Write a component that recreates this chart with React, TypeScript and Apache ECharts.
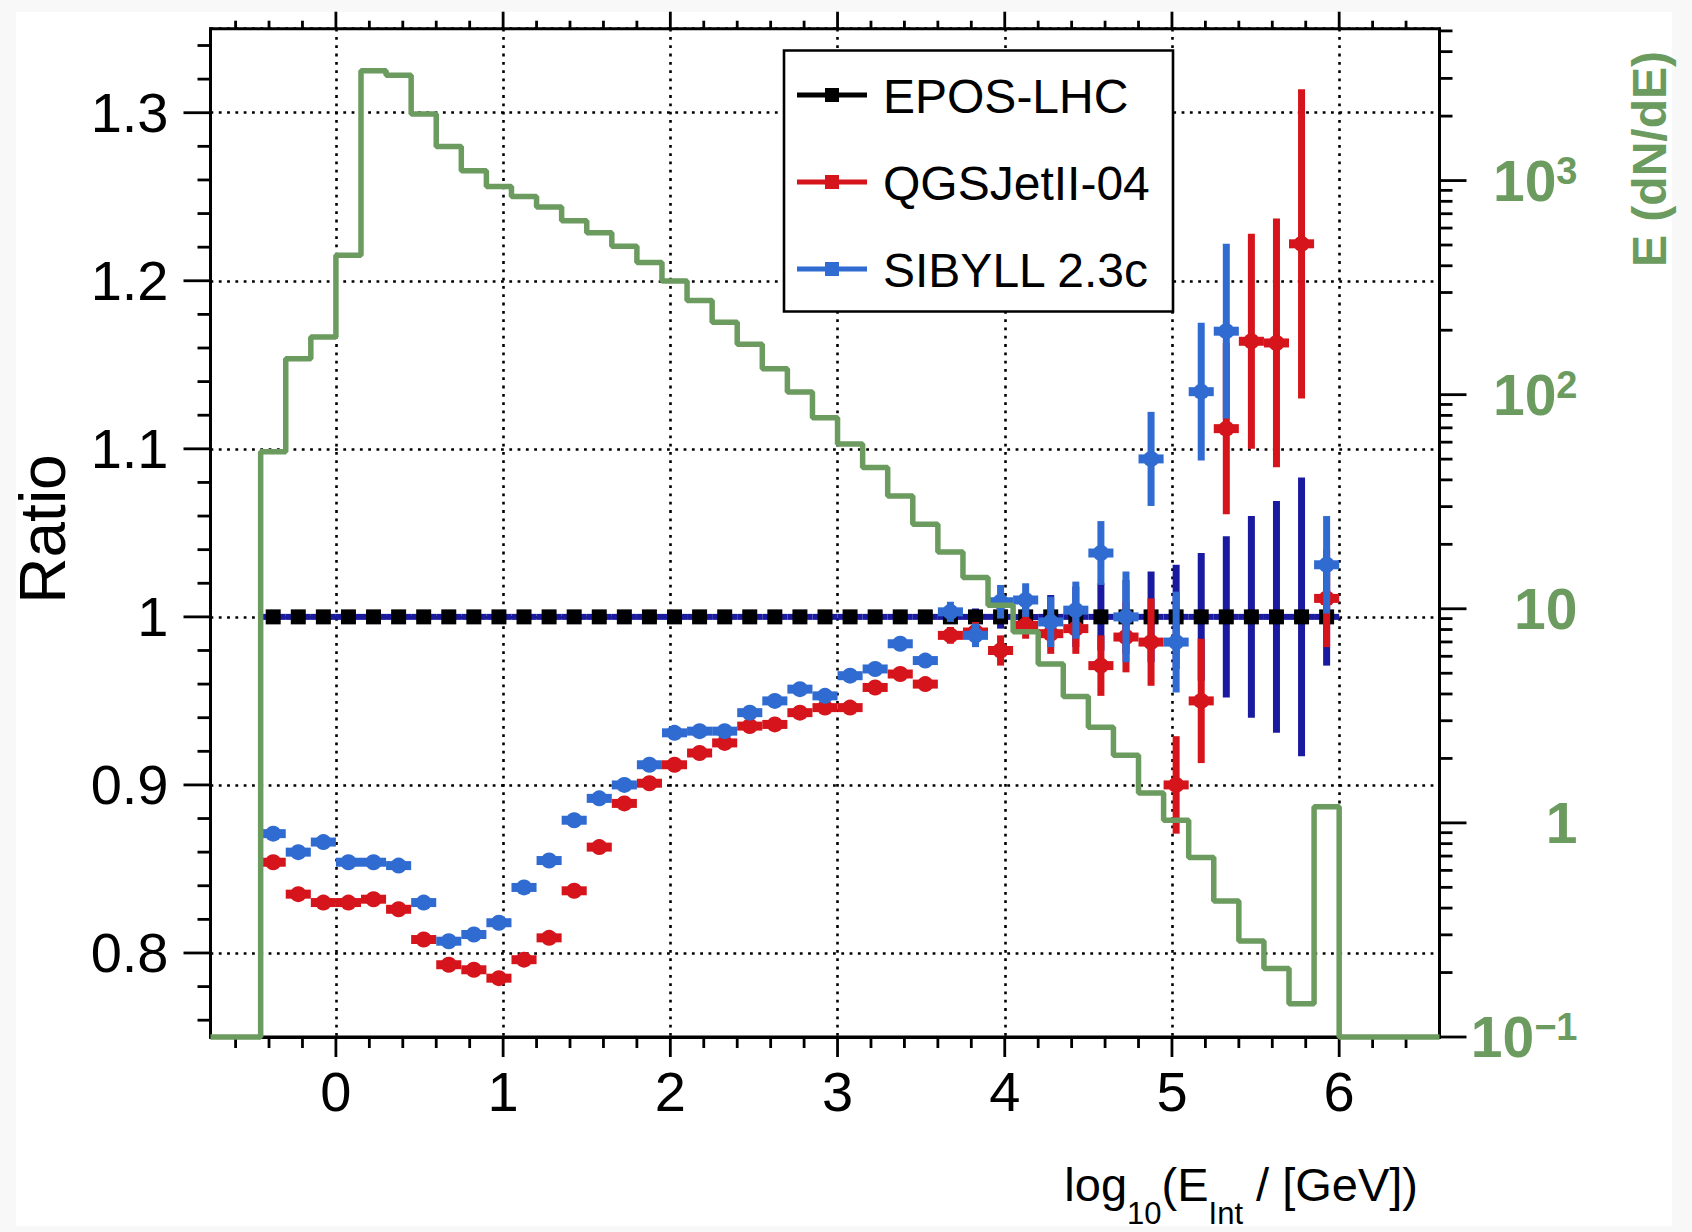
import React, { useEffect, useRef } from 'react';
import * as echarts from 'echarts';

// ---------- data ----------
const binEdges = [
  -0.45, -0.3, -0.15, 0, 0.15, 0.3, 0.45, 0.6, 0.75, 0.9, 1.05, 1.2, 1.35, 1.5, 1.65,
  1.8, 1.95, 2.1, 2.25, 2.4, 2.55, 2.7, 2.85, 3.0, 3.15, 3.3, 3.45, 3.6, 3.75, 3.9,
  4.05, 4.2, 4.35, 4.5, 4.65, 4.8, 4.95, 5.1, 5.25, 5.4, 5.55, 5.7, 5.85, 6.0,
];

const eposRatio = [
  1, 1, 1, 1, 1, 1, 1, 1, 1, 1, 1, 1, 1, 1, 1, 1, 1, 1, 1, 1, 1, 1, 1, 1, 1, 1, 1, 1, 1, 1,
  1, 1, 1, 1, 1, 1, 1, 1, 1, 1, 1, 1, 1,
];
const eposErr = [
  0.001, 0.001, 0.001, 0.001, 0.001, 0.001, 0.001, 0.001, 0.001, 0.001,
  0.001, 0.001, 0.001, 0.001, 0.001, 0.001, 0.001, 0.001, 0.001, 0.001,
  0.001, 0.001, 0.001, 0.001, 0.001, 0.001, 0.001,
  0.004, 0.005, 0.007, 0.009, 0.013, 0.018, 0.02, 0.022, 0.027, 0.031, 0.038, 0.048,
  0.06, 0.069, 0.083, 0.029,
];

const qgsRatio = [
  0.854, 0.835, 0.830, 0.830, 0.832, 0.826, 0.808, 0.793, 0.790, 0.785,
  0.796, 0.809, 0.837, 0.863, 0.889, 0.901, 0.912, 0.919, 0.925, 0.935,
  0.936, 0.943, 0.946, 0.946, 0.958, 0.966, 0.960, 0.989, 0.991, 0.980,
  0.995, 0.990, 0.993, 0.971, 0.988, 0.985, 0.900, 0.950, 1.112, 1.164,
  1.163, 1.222, 1.011,
];
const qgsErr = [
  0.002, 0.002, 0.002, 0.002, 0.002, 0.002, 0.002, 0.002, 0.002, 0.002,
  0.002, 0.002, 0.002, 0.002, 0.002, 0.002, 0.002, 0.002, 0.002, 0.002,
  0.002, 0.003, 0.003, 0.003, 0.003, 0.003, 0.003,
  0.005, 0.006, 0.009, 0.008, 0.012, 0.015, 0.018, 0.021, 0.026, 0.029, 0.037, 0.051,
  0.064, 0.074, 0.092, 0.029,
];

const sibRatio = [
  0.871, 0.860, 0.866, 0.854, 0.854, 0.852, 0.830, 0.807, 0.811, 0.818,
  0.839, 0.855, 0.879, 0.892, 0.900, 0.912, 0.931, 0.932, 0.932, 0.943,
  0.950, 0.957, 0.953, 0.965, 0.969, 0.984, 0.974, 1.003, 0.989, 1.009,
  1.010, 0.997, 1.004, 1.038, 1.000, 1.094, 0.985, 1.134, 1.170, null,
  null, null, 1.031,
];
const sibErr = [
  0.002, 0.002, 0.002, 0.002, 0.002, 0.002, 0.002, 0.002, 0.002, 0.002,
  0.002, 0.002, 0.002, 0.002, 0.002, 0.002, 0.002, 0.002, 0.002, 0.002,
  0.002, 0.003, 0.003, 0.003, 0.003, 0.003, 0.003,
  0.006, 0.007, 0.01, 0.01, 0.015, 0.017, 0.019, 0.027, 0.028, 0.03, 0.041, 0.052,
  null, null, null, 0.029,
];

// E dN/dE histogram (right log axis), one value per bin
const dNdE = [
  54.1, 147, 186, 448, 3260, 3100, 2047, 1442, 1110, 938,
  843, 753, 649, 571, 493, 414, 340, 275, 218, 172,
  132, 103, 78.1, 58.9, 45.7, 33.6, 24.8, 18.4, 14.0, 10.4,
  7.82, 5.52, 3.89, 2.80, 2.07, 1.38, 1.03, 0.689, 0.432, 0.281,
  0.209, 0.143, 1.19,
];
const emptyBinLevel = 0.1;

// axis ranges and ticks
const xRange = [-0.75, 6.6];
const ratioRange = [0.75, 1.35];
const dNdERange = [0.1, 5120];
const energyMajorTicks = [0, 1, 2, 3, 4, 5, 6];
const energyMinorTicks = [
  -0.6, -0.4, -0.2, 0.2, 0.4, 0.6, 0.8, 1.2, 1.4, 1.6, 1.8, 2.2, 2.4, 2.6, 2.8,
  3.2, 3.4, 3.6, 3.8, 4.2, 4.4, 4.6, 4.8, 5.2, 5.4, 5.6, 5.8, 6.2, 6.4,
];
const ratioMajorTicks = [0.8, 0.9, 1, 1.1, 1.2, 1.3];
const ratioMinorTicks = [
  0.76, 0.78, 0.82, 0.84, 0.86, 0.88, 0.92, 0.94, 0.96, 0.98, 1.02, 1.04, 1.06, 1.08,
  1.12, 1.14, 1.16, 1.18, 1.22, 1.24, 1.26, 1.28, 1.32, 1.34,
];
const dNdEMajorTicks = [0.1, 1, 10, 100, 1000];
const dNdEMinorTicks = [
  0.2, 0.3, 0.4, 0.5, 0.6, 0.7, 0.8, 0.9,
  2, 3, 4, 5, 6, 7, 8, 9,
  20, 30, 40, 50, 60, 70, 80, 90,
  200, 300, 400, 500, 600, 700, 800, 900,
  2000, 3000, 4000, 5000,
];

const legendNames = ['EPOS-LHC', 'QGSJetII-04', 'SIBYLL 2.3c'];

// ---------- styles ----------
const FONT = "'Liberation Sans', Arial, Helvetica, sans-serif";
const GREEN = '#6b9b5e';
const NAVY = '#1a1aa0';
const RED = '#d5141b';
const BLUE = '#2f6bd0';
const BLACK = '#000000';

function buildModelData(values: (number | null)[], errors: (number | null)[]) {
  const out: number[][] = [];
  for (let i = 0; i < values.length; i++) {
    const v = values[i];
    if (v == null) continue;
    const lo = binEdges[i];
    const hi = binEdges[i + 1];
    out.push([(lo + hi) / 2, v, errors[i] as number, (hi - lo) / 2]);
  }
  return out;
}

function makeErrorRender(cfg: {
  barColor: string; errColor: string; markColor: string; hBar: number; vBar: number; square: boolean; size: number;
}) {
  return (params: any, api: any) => {
    const c = api.value(0);
    const v = api.value(1);
    const e = api.value(2);
    const hw = api.value(3);
    const p = api.coord([c, v]);
    const l = api.coord([c - hw, v]);
    const r = api.coord([c + hw, v]);
    const t = api.coord([c, v + e]);
    const b = api.coord([c, v - e]);
    const s = cfg.size;
    const children: any[] = [
      {
        type: 'rect',
        shape: { x: l[0], y: p[1] - cfg.hBar / 2, width: r[0] - l[0], height: cfg.hBar },
        style: { fill: cfg.barColor },
      },
      {
        type: 'rect',
        shape: { x: p[0] - cfg.vBar / 2, y: t[1], width: cfg.vBar, height: b[1] - t[1] },
        style: { fill: cfg.errColor },
      },
      cfg.square
        ? { type: 'rect', shape: { x: p[0] - s / 2, y: p[1] - s / 2, width: s, height: s }, style: { fill: cfg.markColor } }
        : { type: 'circle', shape: { cx: p[0], cy: p[1], r: s / 2 }, style: { fill: cfg.markColor } },
    ];
    return { type: 'group', children };
  };
}

function tickRender(params: any, api: any) {
  const cs = params.coordSys;
  const xv = api.value(0);
  const yv = api.value(1);
  const major = api.value(2) === 1;
  const kind = api.value(3);
  const p = api.coord([xv, yv]);
  const ls = { stroke: BLACK, lineWidth: 2.8 };
  const left = cs.x;
  const right = cs.x + cs.width;
  const top = cs.y;
  const bottom = cs.y + cs.height;
  if (kind === 0) {
    const lb = major ? 20 : 11;
    const lt = major ? 17 : 8;
    return {
      type: 'group',
      children: [
        { type: 'line', shape: { x1: p[0], y1: bottom, x2: p[0], y2: bottom + lb }, style: ls },
        { type: 'line', shape: { x1: p[0], y1: top, x2: p[0], y2: top - lt }, style: ls },
      ],
    };
  }
  const len = major ? 27 : 13;
  if (kind === 1) {
    return { type: 'line', shape: { x1: left - len, y1: p[1], x2: left, y2: p[1] }, style: ls };
  }
  return { type: 'line', shape: { x1: right, y1: p[1], x2: right + len, y2: p[1] }, style: ls };
}

function buildOption() {
  const histData: number[][] = [[xRange[0], emptyBinLevel]];
  for (let i = 0; i < dNdE.length; i++) histData.push([binEdges[i], dNdE[i]]);
  histData.push([binEdges[binEdges.length - 1], emptyBinLevel]);
  histData.push([xRange[1], emptyBinLevel]);

  const tickData: number[][] = [];
  energyMajorTicks.forEach((v) => tickData.push([v, 1, 1, 0]));
  energyMinorTicks.forEach((v) => tickData.push([v, 1, 0, 0]));
  ratioMajorTicks.forEach((v) => tickData.push([xRange[0], v, 1, 1]));
  ratioMinorTicks.forEach((v) => tickData.push([xRange[0], v, 0, 1]));
  const logTickData: number[][] = [];
  dNdEMajorTicks.forEach((v) => logTickData.push([xRange[1], v, 1, 2]));
  dNdEMinorTicks.forEach((v) => logTickData.push([xRange[1], v, 0, 2]));

  const dotted = { color: BLACK, width: 2.6, type: [2.8, 5.5] as any };
  const axisLine = { show: true, onZero: false, lineStyle: { color: BLACK, width: 3 } };

  const legendRows = [
    { name: legendNames[0], color: BLACK, y: 95 },
    { name: legendNames[1], color: RED, y: 182 },
    { name: legendNames[2], color: BLUE, y: 269 },
  ];
  const legendEls: any[] = [
    {
      type: 'rect', z: 100,
      shape: { x: 784, y: 50.5, width: 389, height: 261 },
      style: { fill: '#ffffff', stroke: BLACK, lineWidth: 2.6 },
    },
  ];
  legendRows.forEach((r) => {
    legendEls.push({
      type: 'line', z: 101,
      shape: { x1: 797, y1: r.y, x2: 867, y2: r.y },
      style: { stroke: r.color, lineWidth: 5 },
    });
    legendEls.push({
      type: 'rect', z: 102,
      shape: { x: 825, y: r.y - 7, width: 14, height: 14 },
      style: { fill: r.color },
    });
    legendEls.push({
      type: 'text', z: 102, x: 883, y: r.y + 1,
      style: { text: r.name, fontSize: 48, fontFamily: FONT, fill: BLACK, align: 'left', verticalAlign: 'middle' },
    });
  });

  return {
    animation: false,
    backgroundColor: 'transparent',
    grid: {
      left: 210.5, top: 28.7, width: 1229, height: 1008.3,
      show: true, borderColor: BLACK, borderWidth: 3, backgroundColor: 'transparent',
      containLabel: false, outerBoundsMode: 'none',
    },
    xAxis: {
      type: 'value', min: xRange[0], max: xRange[1], splitNumber: 7,
      axisLine, axisTick: { show: false },
      axisLabel: {
        fontSize: 56, color: BLACK, fontFamily: FONT, margin: 26,
        showMinLabel: false, showMaxLabel: false,
      },
      splitLine: { show: true, lineStyle: dotted },
    },
    yAxis: [
      {
        type: 'value', min: ratioRange[0], max: ratioRange[1], splitNumber: 6, position: 'left',
        axisLine, axisTick: { show: false },
        axisLabel: {
          fontSize: 56, color: BLACK, fontFamily: FONT, margin: 42,
          showMinLabel: false, showMaxLabel: false,
        },
        splitLine: { show: true, lineStyle: dotted },
      },
      {
        type: 'log', logBase: 10, min: dNdERange[0], max: dNdERange[1], position: 'right',
        axisLine, axisTick: { show: false }, splitLine: { show: false },
        axisLabel: {
          margin: 138, align: 'right', showMaxLabel: false, showMinLabel: true,
          formatter: (v: number) => {
            const e = Math.round(Math.log10(v));
            if (e === 0) return '{b|1}';
            if (e === 1) return '{b|10}';
            return '{b|10}{p|' + (e < 0 ? '\u2212' + -e : String(e)) + '}';
          },
          rich: {
            b: { fontSize: 57, fontWeight: 'bold', color: GREEN, fontFamily: FONT, lineHeight: 58 },
            p: { fontSize: 38, fontWeight: 'bold', color: GREEN, fontFamily: FONT, lineHeight: 36, verticalAlign: 'top' },
          },
        },
      },
    ],
    graphic: {
      elements: [
        {
          type: 'rect', z: -100, silent: true,
          shape: { x: 16, y: 12, width: 1656, height: 1214 },
          style: { fill: '#ffffff' },
        },
        {
          type: 'text', x: 43, y: 529, rotation: Math.PI / 2,
          style: { text: 'Ratio', fontSize: 64, fontFamily: FONT, fill: BLACK, align: 'center', verticalAlign: 'middle' },
        },
        {
          type: 'text', x: 1649, y: 159, rotation: Math.PI / 2,
          style: {
            text: 'E (dN/dE)', fontSize: 48, fontWeight: 'bold', fontFamily: FONT, fill: GREEN,
            align: 'center', verticalAlign: 'middle',
          },
        },
        {
          type: 'text', x: 1418, y: 1161,
          style: {
            text: '{m|log}{s|10}{m|(E}{s|Int}{m|\u00a0/ [GeV])}',
            fontSize: 47, fontFamily: FONT, fill: BLACK, align: 'right', verticalAlign: 'top',
            rich: {
              m: { fontSize: 47, fontFamily: FONT, fill: BLACK, lineHeight: 47, verticalAlign: 'top' },
              s: { fontSize: 31, fontFamily: FONT, fill: BLACK, lineHeight: 104, verticalAlign: 'middle' },
            },
          },
        },
        ...legendEls,
      ],
    },
    series: [
      {
        name: 'E dN/dE', type: 'line', xAxisIndex: 0, yAxisIndex: 1, step: 'end',
        data: histData, symbol: 'none', clip: false,
        lineStyle: { color: GREEN, width: 5.5 },
      },
      {
        name: 'ticks', type: 'custom', xAxisIndex: 0, yAxisIndex: 0, clip: false, silent: true,
        renderItem: tickRender, data: tickData,
      },
      {
        name: 'logticks', type: 'custom', xAxisIndex: 0, yAxisIndex: 1, clip: false, silent: true,
        renderItem: tickRender, data: logTickData,
      },
      {
        name: legendNames[0], type: 'custom', xAxisIndex: 0, yAxisIndex: 0, clip: false,
        renderItem: makeErrorRender({ barColor: NAVY, errColor: NAVY, markColor: BLACK, hBar: 6, vBar: 7, square: true, size: 15 }),
        data: buildModelData(eposRatio, eposErr),
      },
      {
        name: legendNames[1], type: 'custom', xAxisIndex: 0, yAxisIndex: 0, clip: false,
        renderItem: makeErrorRender({ barColor: RED, errColor: RED, markColor: RED, hBar: 9, vBar: 7, square: false, size: 16 }),
        data: buildModelData(qgsRatio, qgsErr),
      },
      {
        name: legendNames[2], type: 'custom', xAxisIndex: 0, yAxisIndex: 0, clip: false,
        renderItem: makeErrorRender({ barColor: BLUE, errColor: BLUE, markColor: BLUE, hBar: 9, vBar: 7, square: false, size: 16 }),
        data: buildModelData(sibRatio, sibErr),
      },
    ],
  };
}

export default function App() {
  const ref = useRef<HTMLDivElement>(null);
  useEffect(() => {
    if (!ref.current) return;
    const chart = echarts.init(ref.current, null, { renderer: 'svg' });
    chart.setOption(buildOption() as any);
    return () => {
      chart.dispose();
    };
  }, []);
  return (
    <div
      ref={ref}
      style={{ position: 'absolute', left: 0, top: 0, width: 1692, height: 1232, background: '#f8f8f8' }}
    />
  );
}
